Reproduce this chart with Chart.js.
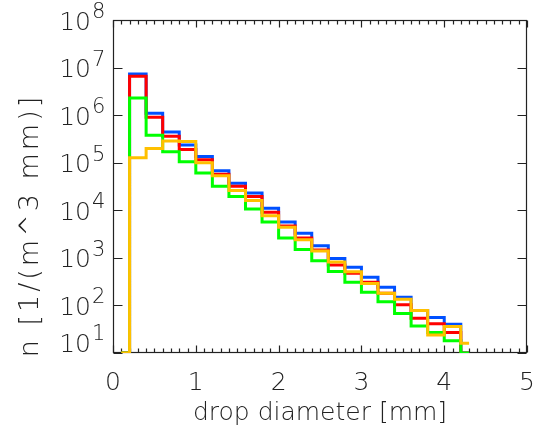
<!DOCTYPE html>
<html><head><meta charset="utf-8">
<script src="https://cdn.jsdelivr.net/npm/chart.js@4.4.1/dist/chart.umd.min.js"></script>
<style>html,body{margin:0;padding:0;background:#fff;}canvas{display:block;}</style>
</head><body>
<canvas id="c" width="542" height="431"></canvas>
<script>
// ---- data ----
const diameters = [0.1,0.3,0.5,0.7,0.9,1.1,1.3,1.5,1.7,1.9,2.1,2.3,2.5,2.7,2.9,3.1,3.3,3.5,3.7,3.9,4.1,4.3];
const seriesBlue   = [10,7.3e6,1.1e6,4.4e5,2.36e5,1.35e5,6.8e4,3.7e4,2.3e4,1.1e4,5.7e3,3.3e3,1.8e3,975,635,390,240,148,78,56,40,10];
const seriesRed    = [10,6.6e6,9.0e5,3.6e5,1.9e5,1.15e5,5.7e4,3.2e4,1.95e4,9.1e3,4.7e3,2.6e3,1.46e3,710,475,307,180,103,54,41,27,10];
const seriesGreen  = [10,2.3e6,3.8e5,1.7e5,1.05e5,6.1e4,3.2e4,1.95e4,1.07e4,5.7e3,2.6e3,1.5e3,870,515,307,190,120,68,37,27,18,10];
const seriesOrange = [10,1.27e5,2.0e5,2.87e5,2.8e5,1.0e5,5.3e4,2.6e4,1.6e4,7.7e3,4.4e3,2.4e3,1.4e3,815,510,290,180,135,78,24,36,16];
const xTickValues = [0,1,2,3,4,5];
const yExponents = [1,2,3,4,5,6,7,8];
const xTitle = 'drop diameter [mm]';
const yTitle = 'n [1/(m^3 mm)]';

const FONT = '"DejaVu Sans", "Liberation Sans", sans-serif';
const TEXT = '#222';

function pts(vals){ return diameters.map((d,i)=>({x:d,y:vals[i]})); }
function ds(vals,color,order){
  return {data:pts(vals),borderColor:color,backgroundColor:color,borderWidth:3,stepped:'middle',
    pointRadius:0,fill:false,order:order,borderJoinStyle:'miter',borderCapStyle:'butt'};
}

const framePlugin = {
  id:'frame',
  beforeDatasetsDraw(chart){
    const {ctx, chartArea:a, scales:{x,y}} = chart;
    ctx.save();
    ctx.strokeStyle = '#222';
    ctx.lineWidth = 1.2;
    const L=Math.round(a.left)+0.5, R=Math.round(a.right)-0.5, T=Math.round(a.top)+0.5, B=Math.round(a.bottom)-0.5;
    ctx.strokeRect(L,T,R-L,B-T);
    ctx.beginPath();
    for(let k=0;k<=50;k++){
      const v=k/10, px=Math.round(x.getPixelForValue(v))+0.5;
      const len = (k%10===0)?7:4;
      ctx.moveTo(px,B); ctx.lineTo(px,B-len);
      ctx.moveTo(px,T); ctx.lineTo(px,T+len);
    }
    yExponents.forEach(e=>{
      const py=Math.round(y.getPixelForValue(Math.pow(10,e)))+0.5;
      ctx.moveTo(L,py); ctx.lineTo(L+9,py);
      ctx.moveTo(R,py); ctx.lineTo(R-9,py);
    });
    ctx.stroke();
    ctx.restore();
  },
  afterDraw(chart){
    const {ctx, scales:{y}} = chart;
    ctx.save();
    ctx.fillStyle = TEXT;
    yExponents.forEach(e=>{
      let py = y.getPixelForValue(Math.pow(10,e));
      if(e===1) py -= 11;
      ctx.font = '200 25px '+FONT;
      ctx.textAlign='right'; ctx.textBaseline='alphabetic';
      ctx.fillText('10', 91, py+9.5);
      ctx.font = '200 21px '+FONT;
      ctx.textAlign='left';
      ctx.fillText(String(e), 92, py-2);
    });
    // y title
    ctx.font = '200 27px '+FONT;
    ctx.letterSpacing = '3px';
    ctx.translate(38, 225.5);
    ctx.rotate(-Math.PI/2);
    ctx.textAlign='center'; ctx.textBaseline='alphabetic';
    ctx.fillText(yTitle, 0, 0);
    ctx.restore();
  }
};

new Chart(document.getElementById('c'), {
  type:'line',
  data:{datasets:[
    ds(seriesOrange,'#ffc000',0),
    ds(seriesGreen,'#00ff00',1),
    ds(seriesRed,'#ff0000',2),
    ds(seriesBlue,'#0050ff',3)
  ]},
  options:{
    responsive:false, animation:false, devicePixelRatio:1,
    layout:{padding:{left:113,right:12,top:20,bottom:0}},
    plugins:{legend:{display:false},tooltip:{enabled:false}},
    scales:{
      x:{type:'linear',min:0,max:5,position:'bottom',
        grid:{display:false},border:{display:false},
        afterBuildTicks(s){ s.ticks = xTickValues.map(v=>({value:v})); },
        afterFit(s){ s.height = 78; },
        ticks:{padding:7,maxRotation:0,autoSkip:false,color:TEXT,
          font:{family:FONT,size:25,weight:200},callback:v=>String(v)},
        title:{display:true,text:xTitle,color:TEXT,font:{family:FONT,size:25,weight:200},padding:{top:0,bottom:3}}
      },
      y:{type:'logarithmic',min:10,max:1e8,display:false}
    }
  },
  plugins:[framePlugin]
});
</script>
</body></html>
